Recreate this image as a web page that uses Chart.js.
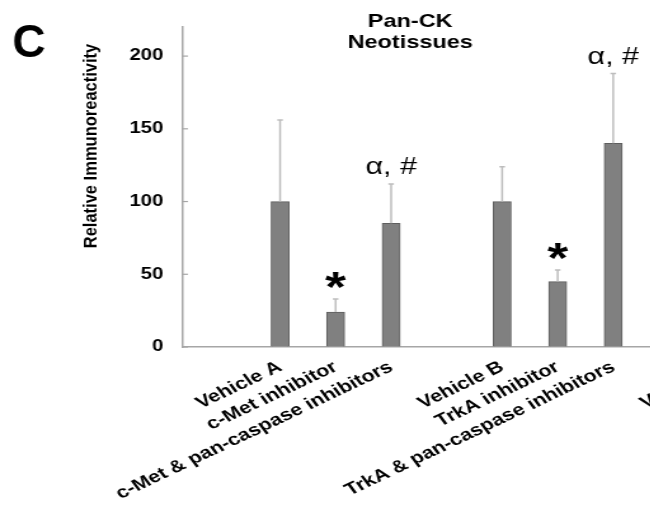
<!DOCTYPE html>
<html>
<head>
<meta charset="utf-8">
<script src="https://cdn.jsdelivr.net/npm/chart.js"></script>
<style>
  html, body { margin: 0; padding: 0; background: #fff; overflow: hidden; }
  #wrap { position: relative; width: 650px; height: 507px; overflow: hidden; }
  /* the source figure is stretched sideways, so the plot is drawn narrow and widened */
  #inner { position: absolute; left: 0; top: 0; width: 600px; height: 507px;
           transform: scaleX(1.27); transform-origin: 0 0; }
</style>
</head>
<body>
<div id="wrap"><div id="inner"><canvas id="chart" width="600" height="507"></canvas></div></div>
<script>
var STRETCH = 1.27;

var labels = ['', 'Vehicle A', 'c-Met inhibitor', 'c-Met & pan-caspase inhibitors',
              '', 'Vehicle B', 'TrkA inhibitor', 'TrkA & pan-caspase inhibitors',
              '', 'Vehicle C'];
var values = [null, 100, 24, 85, null, 100, 45, 140, null, null];
var errors = [null, 56, 9, 27, null, 24, 8, 48, null, null];
var marks  = ['', '', '*', 'α, #', '', '', '*', 'α, #', '', ''];
var yTicks = [0, 50, 100, 150, 200];

var FONT = "'Liberation Sans', Arial, sans-serif";

// draws text at a reference-pixel position with its own sideways scale
function plainText(ctx, txt, x, y, font, rot, sx) {
  ctx.save();
  ctx.translate(x / STRETCH, y);
  ctx.scale(sx / STRETCH, 1);
  if (rot) ctx.rotate(rot);
  ctx.font = font;
  ctx.fillText(txt, 0, 0);
  ctx.restore();
}

var annotPlugin = {
  id: 'annot',
  afterDatasetsDraw: function(chart) {
    var ctx = chart.ctx;
    var xs = chart.scales.x, ys = chart.scales.y;
    var area = chart.chartArea;

    // error bars, upper half only
    ctx.save();
    ctx.strokeStyle = '#bdbdbd';
    ctx.lineWidth = 1.5;
    labels.forEach(function(l, i) {
      if (values[i] == null) return;
      var x = xs.getPixelForValue(i);
      var y0 = ys.getPixelForValue(values[i]);
      var y1 = ys.getPixelForValue(values[i] + errors[i]);
      ctx.beginPath();
      ctx.moveTo(x, y0); ctx.lineTo(x, y1);
      ctx.moveTo(x - 2.2, y1); ctx.lineTo(x + 2.2, y1);
      ctx.stroke();
    });
    ctx.restore();

    // significance marks
    ctx.save();
    ctx.fillStyle = '#000';
    ctx.textAlign = 'center';
    ctx.textBaseline = 'alphabetic';
    labels.forEach(function(l, i) {
      if (!marks[i]) return;
      var x = xs.getPixelForValue(i);
      var yTop = ys.getPixelForValue(values[i] + errors[i]);
      if (marks[i] === '*') {
        ctx.font = 'bold 42px ' + FONT;
        var m = ctx.measureText('*');
        ctx.fillText('*', x, yTop - 11 - m.actualBoundingBoxDescent);
      } else {
        ctx.font = '24px ' + FONT;
        ctx.fillText(marks[i], x, yTop - 10);
      }
    });
    ctx.restore();

    // small inward ticks on the y axis
    ctx.save();
    ctx.strokeStyle = '#a6a6a6';
    ctx.lineWidth = 1.2;
    yTicks.forEach(function(v) {
      var y = ys.getPixelForValue(v);
      ctx.beginPath();
      ctx.moveTo(area.left, y); ctx.lineTo(area.left + 4.7, y);
      ctx.stroke();
    });
    ctx.restore();

    // title
    ctx.save();
    ctx.fillStyle = '#000';
    ctx.textAlign = 'center';
    ctx.textBaseline = 'alphabetic';
    ctx.font = 'bold 18.5px ' + FONT;
    ctx.fillText('Pan-CK', 323, 27);
    ctx.fillText('Neotissues', 323, 48);
    ctx.restore();

    // panel letter is not stretched; the axis title only a little
    ctx.save();
    ctx.fillStyle = '#000';
    ctx.textAlign = 'center';
    ctx.textBaseline = 'middle';
    plainText(ctx, 'C', 29, 44, 'bold 46px ' + FONT, 0, 1);
    plainText(ctx, 'Relative Immunoreactivity', 91, 146, 'bold 16.5px ' + FONT, -Math.PI / 2, 1.13);
    ctx.restore();
  }
};

new Chart('chart', {
  type: 'bar',
  data: {
    datasets: [{
      data: labels.map(function(l, i) { return { x: i, y: values[i] }; }),
      backgroundColor: '#808080',
      borderColor: '#5e5e5e',
      borderWidth: 1,
      barThickness: 14.2
    }]
  },
  options: {
    responsive: false,
    animation: false,
    layout: { padding: { top: 27, left: 0, right: 0, bottom: 0 } },
    plugins: { legend: { display: false }, tooltip: { enabled: false }, title: { display: false } },
    scales: {
      x: {
        type: 'linear',
        offset: false,
        min: -0.767,
        max: 9.68,
        grid: { drawOnChartArea: false, drawTicks: false },
        border: { color: '#a6a6a6', width: 1.5 },
        ticks: {
          stepSize: 1,
          includeBounds: false,
          autoSkip: false,
          minRotation: 31,
          maxRotation: 31,
          padding: 10,
          color: '#000',
          font: { family: FONT, size: 17, weight: 'bold' },
          callback: function(v) { return labels[v] || ''; }
        },
        afterFit: function(s) { s.height = 160; }
      },
      y: {
        min: 0,
        max: 220,
        grid: { drawOnChartArea: false, drawTicks: false },
        border: { color: '#a6a6a6', width: 1.5 },
        ticks: {
          stepSize: 50,
          padding: 14.7,
          color: '#000',
          font: { family: FONT, size: 16, weight: 'bold' }
        },
        afterBuildTicks: function(s) {
          s.ticks = s.ticks.filter(function(t) { return yTicks.indexOf(t.value) >= 0; });
        },
        afterFit: function(s) { s.width = 143.3; }
      }
    }
  },
  plugins: [annotPlugin]
});
</script>
</body>
</html>
